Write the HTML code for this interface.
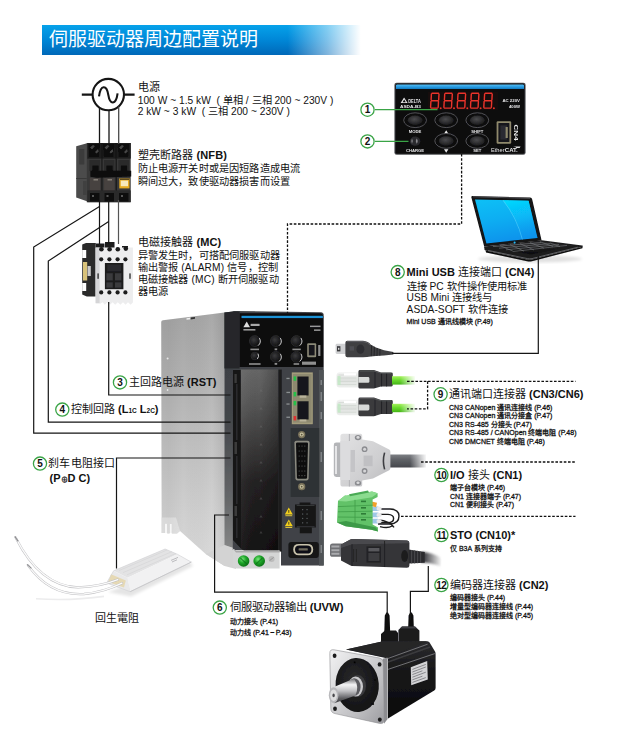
<!DOCTYPE html>
<html lang="zh-CN">
<head>
<meta charset="utf-8">
<title>伺服驱动器周边配置说明</title>
<style>
html,body{margin:0;padding:0;background:#fff;}
body{width:630px;height:735px;overflow:hidden;font-family:"Liberation Sans",sans-serif;color:#111;}
#page{position:absolute;left:0;top:0;width:630px;height:735px;background:#fff;overflow:hidden;}
#titlebar{position:absolute;left:42px;top:25px;width:330px;height:30px;
  background:linear-gradient(to bottom,#06a2ea 0%,#0088d8 48%,#0068b8 100%);}
#titlefade{position:absolute;left:42px;top:24px;width:332px;height:32px;
  background:linear-gradient(to right,rgba(255,255,255,0) 0%,rgba(255,255,255,0) 74%,rgba(255,255,255,.5) 86%,rgba(255,255,255,1) 96%);}
#title{position:absolute;left:49px;top:25px;height:30px;line-height:30px;font-size:19px;color:#fff;white-space:nowrap;letter-spacing:0px;}
svg#art{position:absolute;left:0;top:0;}
.t{position:absolute;white-space:nowrap;color:#111;}
.h{font-size:11px;line-height:13px;}
.h b{font-weight:bold;}
.b{font-size:10.2px;line-height:12.2px;letter-spacing:0.16px;}
.s{font-size:7px;line-height:8.6px;-webkit-text-stroke:0.28px #111;}
.n{position:absolute;width:16px;height:15px;font-size:10px;line-height:15px;font-weight:bold;text-align:center;color:#111;letter-spacing:-0.5px;}
</style>
</head>
<body>
<div id="page">
<div id="titlebar"></div>
<div id="titlefade"></div>
<div id="title">伺服驱动器周边配置说明</div>

<svg id="art" width="630" height="735" viewBox="0 0 630 735">
<defs>
<filter id="b03" x="-5%" y="-5%" width="110%" height="110%"><feGaussianBlur stdDeviation="0.35"/></filter>
<filter id="b05" x="-5%" y="-5%" width="110%" height="110%"><feGaussianBlur stdDeviation="0.55"/></filter>
<filter id="b08" x="-10%" y="-10%" width="120%" height="120%"><feGaussianBlur stdDeviation="0.8"/></filter>
<filter id="b15" x="-20%" y="-20%" width="140%" height="140%"><feGaussianBlur stdDeviation="1.5"/></filter>
<filter id="b30" x="-30%" y="-30%" width="160%" height="160%"><feGaussianBlur stdDeviation="3"/></filter>
<linearGradient id="gSide" x1="0" y1="0" x2="0" y2="1">
  <stop offset="0" stop-color="#a4a4a4"/><stop offset=".25" stop-color="#b0b0b0"/><stop offset=".55" stop-color="#c2c2c2"/><stop offset=".8" stop-color="#d0d0d0"/><stop offset="1" stop-color="#d9d9d9"/>
</linearGradient>
<linearGradient id="gSideX" x1="0" y1="0" x2="1" y2="0">
  <stop offset="0" stop-color="#000" stop-opacity=".03"/><stop offset=".12" stop-color="#000" stop-opacity=".04"/><stop offset=".35" stop-color="#000" stop-opacity="0"/><stop offset=".8" stop-color="#fff" stop-opacity=".06"/><stop offset="1" stop-color="#000" stop-opacity=".06"/>
</linearGradient>
<linearGradient id="gCover" x1="0" y1="0" x2="0" y2="1">
  <stop offset="0" stop-color="#666"/><stop offset=".18" stop-color="#565656"/><stop offset=".42" stop-color="#3a3939"/><stop offset=".62" stop-color="#232122"/><stop offset="1" stop-color="#141213"/>
</linearGradient>
<linearGradient id="gCoverX" x1="0" y1="0" x2="1" y2="0">
  <stop offset="0" stop-color="#fff" stop-opacity=".05"/><stop offset=".5" stop-color="#000" stop-opacity="0"/><stop offset="1" stop-color="#000" stop-opacity=".25"/>
</linearGradient>
<linearGradient id="gBevel" x1="0" y1="0" x2="0" y2="1">
  <stop offset="0" stop-color="#383b3f"/><stop offset=".45" stop-color="#43464a"/><stop offset=".8" stop-color="#66686a"/><stop offset="1" stop-color="#858686"/>
</linearGradient>
<radialGradient id="gBtn" cx=".4" cy=".4" r=".7">
  <stop offset="0" stop-color="#3a3a3c"/><stop offset=".6" stop-color="#1c1c1e"/><stop offset="1" stop-color="#0a0a0b"/>
</radialGradient>
<radialGradient id="gGreen" cx=".4" cy=".35" r=".7">
  <stop offset="0" stop-color="#7be87b"/><stop offset=".45" stop-color="#1fa62a"/><stop offset="1" stop-color="#0a6c14"/>
</radialGradient>
<linearGradient id="gBlue" x1="0" y1="0" x2="0" y2="1"><stop offset="0" stop-color="#5cc0f4"/><stop offset=".5" stop-color="#2a9fe4"/><stop offset="1" stop-color="#157ac0"/></linearGradient>
<radialGradient id="gOval" cx=".45" cy=".4" r=".75"><stop offset="0" stop-color="#4a4a4d"/><stop offset=".55" stop-color="#2a2a2c"/><stop offset="1" stop-color="#111113"/></radialGradient>
<g id="seg8">
  <path d="M1.6 0 H8.2 M1.1 7.4 H7.7 M.6 14.8 H7.2 M1 .8 L.7 6.6 M8.6 .8 L8.3 6.6 M.5 8.2 L.2 14 M8.1 8.2 L7.8 14" stroke="#e8342c" stroke-width="1.45" stroke-linecap="round" fill="none"/>
  <circle cx="10.3" cy="14.9" r="1" fill="#e8342c"/>
</g>
<g id="oval"><ellipse rx="11.4" ry="7.4" fill="#0c0c0e" stroke="#5a5a5e" stroke-width=".9"/><ellipse rx="7.4" ry="4.7" fill="url(#gOval)"/></g>
<linearGradient id="gScreen" x1="0" y1="0" x2=".25" y2="1"><stop offset="0" stop-color="#12c0f6"/><stop offset=".5" stop-color="#08aef2"/><stop offset="1" stop-color="#0894ec"/></linearGradient>
<linearGradient id="gScreenR" x1="0" y1="0" x2=".2" y2="1"><stop offset="0" stop-color="#00dcff" stop-opacity=".95"/><stop offset=".55" stop-color="#08c0fa" stop-opacity=".5"/><stop offset="1" stop-color="#0a9cf0" stop-opacity="0"/></linearGradient>
<linearGradient id="gKb" x1="0" y1="0" x2="0" y2="1"><stop offset="0" stop-color="#2a2a2c"/><stop offset="1" stop-color="#0c0c0d"/></linearGradient>
<linearGradient id="gFadeR" x1="0" y1="0" x2="1" y2="0"><stop offset="0" stop-color="#fff" stop-opacity="0"/><stop offset="1" stop-color="#fff" stop-opacity="1"/></linearGradient>
<linearGradient id="gGreenCable" x1="0" y1="0" x2="0" y2="1"><stop offset="0" stop-color="#a4f05c"/><stop offset=".45" stop-color="#6bdb2e"/><stop offset="1" stop-color="#44b416"/></linearGradient>
<linearGradient id="gGreyCable" x1="0" y1="0" x2="0" y2="1"><stop offset="0" stop-color="#7e8085"/><stop offset=".4" stop-color="#5f6166"/><stop offset="1" stop-color="#45474c"/></linearGradient>
<linearGradient id="gPlug" x1="0" y1="0" x2="0" y2="1"><stop offset="0" stop-color="#f3f4f3"/><stop offset=".5" stop-color="#dfe2df"/><stop offset="1" stop-color="#eceeec"/></linearGradient>
<linearGradient id="gHood" x1="0" y1="0" x2="1" y2="1"><stop offset="0" stop-color="#e2e2e3"/><stop offset=".6" stop-color="#cfcfd1"/><stop offset="1" stop-color="#b9b9bc"/></linearGradient>
<g id="rj45">
  <!-- transparent plug -->
  <path d="M336.6 375.2 Q336.6 372.2 339.6 372.2 H359 V387.6 H339.6 Q336.6 387.6 336.6 384.6Z" fill="url(#gPlug)"/>
  <path d="M338.4 375 h18 M338.4 378 h18 M338.4 381.4 h18 M338.4 384.6 h18" stroke="#c9cec9" stroke-width=".6" fill="none"/>
  <path d="M337.6 376 h3 v9 h-3z" fill="#bfe8c2" opacity=".8"/>
  <path d="M344 373.2 h12 v2.4 h-12z" fill="#fff"/>
  <!-- dark boot -->
  <path d="M358.4 371.4 Q358.6 370 360 370 H374 L381 372.4 H391.4 Q392.8 372.4 392.8 373.8 V385 Q392.8 386.4 391.4 386.4 H381 L374 388.6 H360 Q358.6 388.6 358.4 387.2Z" fill="#3a3b3d"/>
  <path d="M358.4 377 H368 Q369.4 377 369.4 378.4 V381.4 Q369.4 382.8 368 382.8 H358.4Z" fill="#d8dad8"/>
  <path d="M375 372 v16 M381.6 373 v13.4 M386.6 373 v13.4" stroke="#222325" stroke-width="1" fill="none"/>
  <path d="M360 371 H374 L381 373.2 H391" stroke="#5c5d60" stroke-width=".8" fill="none"/>
  <!-- green cable -->
  <path d="M392 376.2 H415 V384.6 H392Z" fill="url(#gGreenCable)"/>
  <path d="M400 375 H416 V386 H400Z" fill="url(#gFadeR)"/>
</g>
<linearGradient id="gFlange" x1="0" y1="0" x2="1" y2="1"><stop offset="0" stop-color="#f2f2f3"/><stop offset=".35" stop-color="#d9d9db"/><stop offset=".7" stop-color="#bcbcbf"/><stop offset="1" stop-color="#9c9ca0"/></linearGradient>
<linearGradient id="gShaft" x1="0" y1="0" x2="0" y2="1"><stop offset="0" stop-color="#6e6e72"/><stop offset=".25" stop-color="#f4f4f5"/><stop offset=".5" stop-color="#c2c2c5"/><stop offset=".8" stop-color="#5f5f63"/><stop offset="1" stop-color="#3a3a3d"/></linearGradient>
<radialGradient id="gFace" cx=".45" cy=".4" r=".7"><stop offset="0" stop-color="#2a2a2c"/><stop offset="1" stop-color="#0e0e10"/></radialGradient>
<linearGradient id="gBody" x1="0" y1="0" x2="0" y2="1"><stop offset="0" stop-color="#2c2c2f"/><stop offset=".4" stop-color="#161618"/><stop offset="1" stop-color="#0b0b0c"/></linearGradient>
<linearGradient id="gRes" x1="0" y1="0" x2="1" y2="0"><stop offset="0" stop-color="#e9e9ea"/><stop offset="1" stop-color="#dadadc"/></linearGradient>
</defs>
<!-- ===== moulded case breaker ===== -->
<g id="breaker" filter="url(#b05)">
  <path d="M76.2 146.2 L87 143.2 V201.2 L76.2 197.6Z" fill="#4c4c4c"/>
  <path d="M79.2 149 h5.2 v15.5 h-5.2z" fill="#3b3b3b"/>
  <path d="M76.2 178 h10.6 v1 h-10.6z" fill="#393939"/>
  <path d="M83 181 h3.5 v14 h-3.5z" fill="#3f3f3f"/>
  <rect x="86.8" y="143" width="43.9" height="59.2" fill="#383838"/>
  <!-- top terminals -->
  <rect x="87.4" y="143" width="43.3" height="15.6" fill="#1b1b1b"/>
  <g fill="#0a0a0a">
    <path d="M88.5 144 h11.5 l-1.5 13 h-9z"/>
    <path d="M103 144 h11.5 l-1.5 13 h-9z"/>
    <path d="M117.5 144 h11.5 l-1 13 h-9z"/>
  </g>
  <g fill="#7a7a7a" opacity=".55">
    <path d="M90 147.5 l3-2.5 2 1 -3 3.4z M95 152 l3-3 .8 2.4 -2.4 2z"/>
    <path d="M104.5 147.5 l3-2.5 2 1 -3 3.4z M109.5 152 l3-3 .8 2.4 -2.4 2z"/>
    <path d="M119 147.5 l3-2.5 2 1 -3 3.4z M124 152 l3-3 .8 2.4 -2.4 2z"/>
  </g>
  <!-- pole dividers -->
  <path d="M101.9 143V202M116.2 143V202" stroke="#191919" stroke-width="1.3" fill="none"/>
  <!-- mid windows -->
  <g fill="#2c2c2c">
    <rect x="89.3" y="160" width="10.8" height="11"/>
    <rect x="104" y="160" width="10.6" height="11"/>
    <rect x="118.2" y="160" width="11" height="11"/>
  </g>
  <g fill="#0d0d0d">
    <rect x="92.2" y="165.6" width="6.4" height="5.6"/>
    <rect x="106.4" y="165.6" width="6.4" height="5.6"/>
    <rect x="120.8" y="165.6" width="6.4" height="5.6"/>
  </g>
  <!-- lower panels -->
  <g fill="#47423f">
    <rect x="89.8" y="178" width="10.4" height="12.2"/>
    <rect x="104.2" y="178" width="10.4" height="12.2"/>
  </g>
  <g fill="#9a948c">
    <rect x="93.5" y="179.3" width="4.5" height="1.1"/>
    <rect x="107.5" y="179.3" width="4.5" height="1.1"/>
  </g>
  <!-- yellow label -->
  <rect x="119.3" y="178.4" width="10.2" height="10" fill="#e6ac22"/>
  <rect x="120.8" y="180.6" width="7.2" height="5.6" fill="#f7e9bb"/>
  <rect x="120" y="178.6" width="9" height="1.2" fill="#3a3020"/>
  <!-- handle -->
  <path d="M90.4 170.8H131.2V176.4L97 177.8 90.4 176.8Z" fill="#0b0b0b"/>
  <!-- bottom terminals -->
  <rect x="87.4" y="190.4" width="43.3" height="11.8" fill="#2a2a2a"/>
  <g fill="#0c0c0c">
    <path d="M90 193 h9.5 v8.5 h-9.5z M104.5 193 h9.5 v8.5 h-9.5z M119 193 h9.5 v8.5 h-9.5z"/>
  </g>
  <g fill="#777" opacity=".7">
    <path d="M92 195 h2 v2 h-2z M106.5 195 h2 v2 h-2z M121 195 h2 v2 h-2z"/>
  </g>
</g>
<!-- ===== magnetic contactor ===== -->
<g id="contactor" filter="url(#b05)">
  <!-- dark back / side -->
  <path d="M82.2 244.5 L86 243 h9.8 V296.5 h-9 L82.2 294.5Z" fill="#2a2a2c"/>
  <path d="M82.2 250 h4 v8 h-4z M82.2 283 h4 v8 h-4z" fill="#fff"/>
  <path d="M83 262 h4.2 v18.5 h-4.2z" fill="#d8c27a"/>
  <path d="M87.5 266 h3.3 v10 h-3.3z" fill="#c9c9c9"/>
  <!-- top black clips -->
  <path d="M96 243.5 h8.5 v5 h-8.5z M105 242 h9.5 v6 h-9.5z M122 246 h6 v3 h-6z" fill="#1c1c1e"/>
  <!-- white front -->
  <path d="M95.6 247.6 H132.9 V302.5 l-2.3 2.2 -2.6-2.4 -2.4 2.4 -2.6-2.4 -2.6 2.4 -2.6-2.4 -2.6 2.4 -2.6-2.4 -2.6 2.4 -2.6-2.4 -2.6 2.4 -2.2-2.4 -2.4 1.4 H95.6Z" fill="#ededee"/>
  <path d="M95.6 247.6 h4 V303 h-4z" fill="#d5d5d7"/>
  <!-- top terminal notches -->
  <g fill="#1b1b1d">
    <circle cx="101.4" cy="249.3" r="2.3"/><circle cx="109.6" cy="249.3" r="2.3"/><circle cx="117.8" cy="249.3" r="2.3"/><circle cx="125.8" cy="248.6" r="2.3"/>
    <circle cx="101.2" cy="259.3" r="2.1"/><circle cx="109.4" cy="259.3" r="2.1"/><circle cx="117.6" cy="259.3" r="2.1"/><circle cx="125.4" cy="259.3" r="2.1"/>
    <circle cx="101.2" cy="292.4" r="2.1"/><circle cx="109.4" cy="292.4" r="2.1"/><circle cx="117.6" cy="292.4" r="2.1"/><circle cx="125.4" cy="292.4" r="2.1"/>
  </g>
  <!-- centre block -->
  <rect x="104.9" y="263" width="18.5" height="26.2" fill="#1d1d1f"/>
  <g fill="#3a3a3c">
    <rect x="106.4" y="273.2" width="6.4" height="7.2"/><rect x="115" y="273.2" width="6.4" height="7.2"/>
    <rect x="106.4" y="282.4" width="6.4" height="5.2"/><rect x="115" y="282.4" width="6.4" height="5.2"/>
  </g>
  <rect x="107.4" y="264.6" width="13.6" height="6.6" fill="#2b2b2d"/>
  <!-- side slots -->
  <rect x="97.4" y="273.4" width="1.4" height="5.4" fill="#333"/>
  <rect x="129.3" y="273.4" width="1.4" height="5.4" fill="#333"/>
</g>
<!-- ===== servo drive ===== -->
<g id="servo">
 <g filter="url(#b05)">
  <!-- aluminium side -->
  <path id="sidepoly" d="M161.2 322 Q161.3 320.6 163 320.3 L224.6 312.6 V566 L205.7 554 180 531 L177 533.6 H171.8 V524 H169.6 V533.6 H167.2 V523.4 H165 V533 H161.6 Z" fill="url(#gSide)"/>
  <path d="M161.6 517.5 H176 L180 531 L177 533.6 H171.8 V524 H169.6 V533.6 H167.2 V523.4 H165 V533 H161.6Z" fill="#e4e4e4" opacity=".85"/>
  <path d="M161.2 322 Q161.3 320.6 163 320.3 L224.6 312.6 V566 L205.7 554 180 531 L177 533 H162 Z" fill="url(#gSideX)"/>
  <path d="M186.5 318.2 l4.5-.6 v1.6 l-4.5.6z" fill="#eee"/>
  <path d="M190.5 317.6 l4.5-.6 v1.8 l-4.5.6z" fill="#333"/>
  <circle cx="167.6" cy="358.5" r="1" fill="#e6e6e6"/><circle cx="167.6" cy="390" r=".9" fill="#e6e6e6"/>
  <!-- bottom light shoe -->
  <path d="M205.7 554 L224.6 566 236 569 236 549 224.4 545 Z" fill="#d3d3d3"/>
  <!-- front bevel -->
  <path d="M224.4 312.6 L233.2 311.4 V548 L224.4 545 Z" fill="url(#gBevel)"/>
  <!-- front face -->
  <path d="M232.8 311.6 Q233 310.8 234.2 310.9 L321.4 312.2 Q323.5 312.4 323.7 314.6 V565.6 H281 V550 H232.8Z" fill="#404346"/>
  <path d="M319 370 H323.7 V565.6 H319Z" fill="#505356"/>
  <!-- top display panel -->
  <path d="M239.4 313.2 H320 Q323 313.4 323.2 316.6 V367 H239.4Z" fill="#0b0b0d"/>
  <path d="M224.4 312.6 L233.2 311.4 H239.6 V368.6 H224.4Z" fill="#25282b"/>
  <rect x="241.5" y="315.8" width="81.4" height="2.3" fill="#1e92d6"/>
  <!-- logo + small text -->
  <path d="M243.4 327.2 l3.3-5.6 3.3 5.6z" fill="#ddd"/>
  <rect x="250.6" y="323.8" width="9" height="2.2" fill="#a8a8a8"/>
  <rect x="243.4" y="329" width="12" height="1.6" fill="#999"/>
  <rect x="310" y="325.6" width="10.5" height="1.5" fill="#999"/><rect x="314" y="329.4" width="6.5" height="1.5" fill="#999"/>
  <!-- buttons -->
  <g fill="url(#gBtn)" stroke="#2e2e30" stroke-width=".8">
   <circle cx="254.8" cy="341" r="5.4"/><circle cx="275.8" cy="341" r="5.4"/><circle cx="296.4" cy="341" r="5.4"/>
   <circle cx="275.8" cy="356.8" r="5.4"/><circle cx="296.4" cy="356.8" r="5.4"/>
   <circle cx="254.8" cy="356" r="3.8"/>
  </g>
  <g fill="none" stroke="#d8d8d8" stroke-width=".9" stroke-linecap="round">
   <path d="M259.6 338.4 a5.6 5.6 0 0 1 -1.2 7"/><path d="M280.6 338.4 a5.6 5.6 0 0 1 -1.2 7"/><path d="M301.2 338.4 a5.6 5.6 0 0 1 -1.2 7"/>
   <path d="M280.6 354.2 a5.6 5.6 0 0 1 -1.2 7"/><path d="M301.2 354.2 a5.6 5.6 0 0 1 -1.2 7"/><path d="M258.2 354 a4 4 0 0 1 -.6 4.6"/>
  </g>
  <g fill="#8f8f8f">
   <rect x="250.4" y="348.6" width="8.6" height="1.6"/><rect x="274.6" y="348.4" width="2.6" height="1.8"/><rect x="292.4" y="348.6" width="8.4" height="1.6"/>
   <rect x="249" y="363.2" width="11.6" height="1.6"/><rect x="274.6" y="363" width="2.6" height="1.8"/><rect x="293.6" y="363.2" width="5.6" height="1.6"/>
   <rect x="302" y="361.6" width="14" height="3.2"/>
   <rect x="318.2" y="345" width="2.2" height="11"/>
  </g>
  <!-- usb port -->
  <rect x="307.2" y="343.2" width="9" height="14" rx="1" fill="#8c8a78"/>
  <rect x="308.8" y="345" width="5.8" height="10.4" fill="#16161a"/>
  <!-- terminal cover strip w/ notches -->
  <path d="M233 370 H241 V548.6 L233 540Z" fill="#121213"/>
  <path d="M234.4 374 h2.4 v9 h-2.4z M234.4 442 h2.6 v12 h-2.6z M234.4 506 h2.6 v10 h-2.6z" fill="#3a3a3a"/>
  <path d="M236 384 h1.6 v56 h-1.6z M236 456 h1.6 v48 h-1.6z M236 518 h1.6 v20 h-1.6z" fill="#2c2c2d"/>
  <!-- glossy cover -->
  <path d="M240.8 369.6 H278.4 V551.6 H245 L240.8 548.6Z" fill="url(#gCover)"/>
  <path d="M240.8 369.6 H278.4 V551.6 H245 L240.8 548.6Z" fill="url(#gCoverX)"/>
  <path d="M278.4 369.6 H281.8 V551.6 H278.4Z" fill="#1b1c1d"/>
  <g fill="#777" opacity=".35">
   <path d="M261 389 l1.6 2.6h-3.2z M261 407 l1.6 2.6h-3.2z M261 425 l1.6 2.6h-3.2z M261 443 l1.6 2.6h-3.2z M261 461 l1.6 2.6h-3.2z M261 479 l1.6 2.6h-3.2z M261 497 l1.6 2.6h-3.2z M261 515 l1.6 2.6h-3.2z M261 531 l1.6 2.6h-3.2z"/>
  </g>
  <!-- small led labels -->
  <g fill="#8b8f92"><rect x="286.4" y="377.8" width="3.2" height="1.3"/><rect x="286.4" y="391.8" width="3.6" height="1.3"/><rect x="286.4" y="403.4" width="3.2" height="1.3"/><rect x="286.4" y="416.6" width="3.6" height="1.3"/>
  <rect x="320.6" y="380" width="1.2" height="5"/><rect x="320.6" y="392" width="1.2" height="9"/><rect x="320.6" y="412" width="1.2" height="7"/><rect x="320.6" y="452" width="1.2" height="10"/><rect x="320.6" y="511" width="1.2" height="9"/><rect x="320.6" y="545" width="1.2" height="8"/></g>
  <!-- RJ45 -->
  <rect x="291.8" y="372.4" width="21" height="51.8" fill="#a39c7c"/>
  <rect x="293" y="374" width="18.6" height="48.6" fill="#8e8970"/>
  <path d="M297.4 376.6 H308.6 V395.6 H297.4Z M297.4 401.2 H308.6 V419.4 H297.4Z" fill="#18191b"/>
  <path d="M299.6 395.6 h6.8 v2.2 h-6.8z M299.6 419.4 h6.8 v2.2 h-6.8z" fill="#b9b39a"/>
  <g fill="#27c04a"><rect x="293.6" y="376.4" width="2.6" height="4.4"/><rect x="293.6" y="392" width="2.6" height="4.4"/><rect x="293.6" y="401" width="2.6" height="4.4"/></g>
  <rect x="293.6" y="416" width="2.6" height="4.4" fill="#d33"/>
  <!-- D-sub panel -->
  <rect x="290.6" y="428" width="28.6" height="69" fill="#2f3235"/>
  <circle cx="301.7" cy="434.6" r="3.6" fill="#7c755c"/><circle cx="301.7" cy="434.6" r="2" fill="#c9c2a0"/><circle cx="301.7" cy="434.6" r=".9" fill="#5a5540"/>
  <circle cx="301.7" cy="486.7" r="3.6" fill="#7c755c"/><circle cx="301.7" cy="486.7" r="2" fill="#c9c2a0"/><circle cx="301.7" cy="486.7" r=".9" fill="#5a5540"/>
  <path d="M294.4 442.6 Q294.6 440.8 296.4 440.8 H307.6 Q309.6 440.8 309.6 442.8 L308.6 478.4 Q308.4 480.4 306.6 480.4 H297.4 Q295.6 480.4 295.4 478.4Z" fill="#8a8a80"/>
  <path d="M296 443.6 Q296.1 442.4 297.3 442.4 H306.8 Q308.1 442.4 308 443.7 L307.1 477.6 Q307 478.8 305.9 478.8 H298.1 Q297 478.8 296.9 477.6Z" fill="#0e0f10"/>
  <g fill="#5a5a58"><circle cx="299.2" cy="446" r=".6"/><circle cx="302" cy="446" r=".6"/><circle cx="304.8" cy="446" r=".6"/><circle cx="299.2" cy="451" r=".6"/><circle cx="302" cy="451" r=".6"/><circle cx="304.8" cy="451" r=".6"/><circle cx="299.2" cy="456" r=".6"/><circle cx="302" cy="456" r=".6"/><circle cx="304.8" cy="456" r=".6"/><circle cx="299.2" cy="461" r=".6"/><circle cx="302" cy="461" r=".6"/><circle cx="304.8" cy="461" r=".6"/><circle cx="299.2" cy="466" r=".6"/><circle cx="302" cy="466" r=".6"/><circle cx="304.8" cy="466" r=".6"/><circle cx="299.2" cy="471" r=".6"/><circle cx="302" cy="471" r=".6"/><circle cx="304.8" cy="471" r=".6"/><circle cx="299.2" cy="475.6" r=".6"/><circle cx="302" cy="475.6" r=".6"/><circle cx="304.8" cy="475.6" r=".6"/></g>
  <!-- warning triangles -->
  <path d="M288.8 507.6 l4 6.8 h-8z M288.8 519.4 l4 6.8 h-8z" fill="#f2cf1c"/>
  <path d="M288.8 510 v2.8 M288.8 521.8 v2.8" stroke="#222" stroke-width=".8"/>
  <rect x="285.4" y="515.2" width="6.8" height="1" fill="#d9c23a"/><rect x="285.4" y="527" width="6.8" height="1" fill="#d9c23a"/>
  <!-- CN10 black connector -->
  <path d="M295 504.6 H299.6 V502.6 H310.4 V504.6 H315.8 V527.6 H311.8 V533.2 H299.8 V527.6 H295Z" fill="#121314"/>
  <g fill="#55585a"><rect x="302" y="509" width="1.3" height="1.3"/><rect x="306.4" y="509" width="1.3" height="1.3"/><rect x="302" y="513.4" width="1.3" height="1.3"/><rect x="306.4" y="513.4" width="1.3" height="1.3"/><rect x="302" y="517.8" width="1.3" height="1.3"/><rect x="306.4" y="517.8" width="1.3" height="1.3"/><rect x="302" y="522.2" width="1.3" height="1.3"/><rect x="306.4" y="522.2" width="1.3" height="1.3"/></g>
  <path d="M296.6 505.4 h18 M296.6 526.8 h18" stroke="#4a4d50" stroke-width=".7" fill="none"/>
  <!-- CN2 port -->
  <path d="M288.4 545 Q288.4 542 291.4 542 H316 Q318.8 542 318.8 545 V555 Q318.8 558 316 558 H291.4 Q288.4 558 288.4 555Z" fill="#141516"/>
  <path d="M293.2 549.4 Q293.2 544 299 544 H307.4 Q313.2 544 313.2 549.4 Q313.2 555.2 307.4 555.2 H299 Q293.2 555.2 293.2 549.4Z" fill="#c8c2ac"/>
  <path d="M295 549.4 Q295 545.6 299.4 545.6 H307 Q311.4 545.6 311.4 549.4 Q311.4 553.6 307 553.6 H299.4 Q295 553.6 295 549.4Z" fill="#101112"/>
  <rect x="298.6" y="548.2" width="9.2" height="2.4" rx=".6" fill="#6e6a5c"/>
  <!-- light base block + green screws -->
  <path d="M233 548.8 L236 550.4 H279.6 V568.6 H236.6 L233 566Z" fill="#d4d5d5"/>
  <path d="M233 548.8 L236 550.4 H279.6 V552.4 H236 Z" fill="#ababab"/>
  <circle cx="243.6" cy="561" r="5.8" fill="url(#gGreen)"/>
  <circle cx="259.2" cy="561" r="5.8" fill="url(#gGreen)"/>
  <path d="M240.4 558 l6.4 6 M262.4 558 l-6.4 6" stroke="#0c6d18" stroke-width="1.1" fill="none" opacity=".7"/>
  <circle cx="271.6" cy="559" r="3" fill="#bcbcbc"/><path d="M269.6 560.6 l4-3.2" stroke="#8a8a8a" stroke-width=".8"/>
 </g>
</g>
<!-- ===== display panel ===== -->
<g id="panel" filter="url(#b03)">
  <rect x="394.4" y="82.8" width="131.2" height="72" rx="2.2" fill="#4e4f52"/>
  <rect x="395.4" y="83.6" width="129.2" height="70.2" rx="1.6" fill="#0c0c0f"/>
  <path d="M396 85.6 Q396 84.4 397.2 84.4 H522.8 Q524 84.4 524 85.6 V88.9 H396Z" fill="url(#gBlue)"/>
  <!-- digits -->
  <rect x="428" y="91.4" width="70" height="19" fill="#150809"/>
  <use href="#seg8" x="430.4" y="93.3"/><use href="#seg8" x="443.7" y="93.3"/><use href="#seg8" x="457" y="93.3"/><use href="#seg8" x="470.3" y="93.3"/><use href="#seg8" x="483.6" y="93.3"/>
  <!-- logo -->
  <path d="M400.6 103 l3.5-5.6 3.5 5.6z" fill="#e6e6e6"/>
  <path d="M402.6 102.2 l1.6-2.6 1.6 2.6z" fill="#0c0c0f"/>
  <g font-family="Liberation Sans, sans-serif" font-weight="bold" fill="#e9e9e9">
   <text x="408.2" y="103" font-size="4.6" textLength="12.6" lengthAdjust="spacingAndGlyphs">DELTA</text>
   <text x="400" y="108.2" font-size="4.4" textLength="21" lengthAdjust="spacingAndGlyphs">ASDA-B3</text>
   <text x="502.4" y="101.8" font-size="4.4" textLength="17.6" lengthAdjust="spacingAndGlyphs">AC 220V</text>
   <text x="509" y="107.8" font-size="4.4" textLength="11" lengthAdjust="spacingAndGlyphs">400W</text>
   <text x="415.1" y="133.4" font-size="4.2" text-anchor="middle">MODE</text>
   <text x="477.3" y="133.4" font-size="4.2" text-anchor="middle">SHIFT</text>
   <text x="415.1" y="152.3" font-size="4.2" text-anchor="middle">CHARGE</text>
   <text x="477.3" y="152.3" font-size="4.2" text-anchor="middle">SET</text>
   <text x="491" y="152" font-size="5.4" font-weight="normal" textLength="13.6" lengthAdjust="spacingAndGlyphs">Ether</text>
   <text x="504.8" y="152" font-size="5.6" textLength="13" lengthAdjust="spacingAndGlyphs">CAT.</text>
   <g transform="translate(514 124.6) rotate(90)"><text x="0" y="0" font-size="6.2" textLength="16" lengthAdjust="spacingAndGlyphs">CN4</text></g>
  </g>
  <path d="M513 146.4 h7.6 l-1 1.6 h-3.4 l-.8-1 z" fill="#ddd"/>
  <path d="M444 133.8 l2.2-3.6 2.2 3.6z M444 149.2 l2.2 3.6 2.2-3.6z" fill="#e9e9e9"/>
  <!-- buttons -->
  <use href="#oval" x="415.1" y="120.2"/><use href="#oval" x="446.2" y="120.2"/><use href="#oval" x="477.3" y="120.2"/>
  <use href="#oval" x="446.2" y="140.9"/><use href="#oval" x="477.3" y="140.9"/>
  <!-- charge led -->
  <ellipse cx="415.1" cy="141.2" rx="5.2" ry="4.6" fill="#2c2c2f"/>
  <path d="M412 138.6 q1.6 2.6 0 5.2 q-1.4-2.6 0-5.2z M416.6 138.6 q2.2 2.6 0 5.2 q-1.6-2.6 0-5.2z" fill="#8d8d92"/>
  <!-- usb -->
  <rect x="496.6" y="121.2" width="14.6" height="22.6" rx="1.2" fill="#8f896c"/>
  <rect x="498.4" y="123" width="11" height="19" rx=".6" fill="#14141a"/>
  <path d="M500.4 125.4 h6.8 v14.2 h-6.8z" fill="#2a2a33"/>
  <path d="M505.6 127 h2.2 v11 h-2.2z" fill="#8f896c"/>
</g>
<!-- ===== laptop ===== -->
<g id="laptop" filter="url(#b03)">
  <!-- soft shadow -->
  <ellipse cx="530" cy="259" rx="52" ry="3.4" fill="#000" opacity=".12" filter="url(#b15)"/>
  <!-- lid -->
  <path d="M471.4 197.4 Q471 195.8 472.8 196 L530.2 197.6 Q531.8 197.7 532.2 199.4 L541.6 240.4 L484.2 246.6 Z" fill="#121214"/>
  <path d="M475 199.4 L528.6 200.8 L537.6 238 L486.4 243.4 Z" fill="url(#gScreen)"/>
  <path d="M503 200.2 L528.6 200.8 L537.6 238 L522.4 239.6 Q517 218 503 200.2Z" fill="url(#gScreenR)"/>
  <path d="M503 200.2 Q517 218 522.4 239.6" stroke="#7fe0ff" stroke-width=".5" fill="none" opacity=".8"/>
  <!-- base -->
  <path d="M484.2 246.4 L541.6 240.2 L582.2 245.4 Q583.4 245.8 582.6 246.8 L532 259.4 Q529.6 259.8 527 259.4 L485.6 250.6 Q484 250 484.2 246.4Z" fill="#1b1b1d"/>
  <path d="M487.4 246.6 L540.6 241.4 L574.4 245.4 L531 254.6 Z" fill="url(#gKb)"/>
  <g stroke="#8c8e92" stroke-width=".6" opacity=".85" fill="none">
    <path d="M493 246.6 L541 242.6 M499 248.2 L550 243.6 M506 249.8 L559 244.6 M514 251.4 L567 245.4"/>
    <path d="M500 245.6 l14 6 M510 244.6 l14 6.6 M520 243.6 l14 6.4 M530 242.6 l14 5.6 M540 241.8 l13 4.6 M550 243 l10 3.6"/>
  </g>
  <circle cx="514.6" cy="242.6" r="1.1" fill="#27b5f2"/>
  <path d="M488 250.4 L527.4 258.6 Q529.6 259 532 258.6 L578 247.2" stroke="#9a9c9f" stroke-width=".7" fill="none" opacity=".8"/>
  <path d="M473 196.8 L530 198.4" stroke="#7a7c80" stroke-width=".7" fill="none" opacity=".8"/>
  <path d="M485.6 250.6 L527 259.4 Q529.6 259.8 532 259.4 L582.6 246.8 L582.4 248.2 L532 261.2 Q529.4 261.6 527 261.2 L486 252.4Z" fill="#0a0a0b"/>
</g>
<!-- ===== mini usb cable ===== -->
<g id="usbcable" filter="url(#b03)">
  <path d="M335.6 345.2 Q335.6 343.8 337 343.8 H346 V354 H337 Q335.6 354 335.6 352.6Z" fill="#cfd0d2"/>
  <rect x="337" y="346.2" width="3.4" height="5.2" fill="#3a3a3d"/>
  <rect x="338" y="347.8" width="1.4" height="2" fill="#d8d8d8"/>
  <path d="M345.4 342.4 Q345.6 340.8 347.2 340.8 H363 Q368.6 341.2 370.6 344.6 L376 347.4 L384 350.2 L393.4 352 V354.6 L384 355.4 L376 356 L370.6 356.6 Q367.6 357.2 363 357.2 H347.2 Q345.6 357.2 345.4 355.6Z" fill="#404043"/>
  <ellipse cx="360.4" cy="349.2" rx="4" ry="4.6" fill="#2e2e31"/>
  <path d="M349.6 346.2 h4.4 v4.4 h-4.4z" fill="#505054"/>
  <path d="M371.6 345.4 l-.4 10.8 M374.4 346.8 l-.3 9.2 M377.2 348 l-.2 7.8 M380 349 l-.2 6.6" stroke="#232325" stroke-width=".9" fill="none"/>
  <path d="M347 341.6 H363 Q368 342 370 344.8" stroke="#66666a" stroke-width=".8" fill="none"/>
</g>
<!-- ===== RJ45 cables ===== -->
<g filter="url(#b03)"><use href="#rj45"/><use href="#rj45" y="27.6"/></g>
<!-- ===== D-sub I/O connector ===== -->
<g id="dsub" filter="url(#b03)">
  <!-- cable -->
  <path d="M384 454.4 H426 V467.6 H384Z" fill="url(#gGreyCable)"/>
  <path d="M410 453 H427 V469 H410Z" fill="url(#gFadeR)"/>
  <!-- metal face -->
  <path d="M333.8 445 Q333.8 442.6 336.2 442.6 H341 V477 H336.2 Q333.8 477 333.8 474.6Z" fill="#b4b5b8"/>
  <path d="M335 446 h2 v28 h-2z" fill="#e6e6e8"/>
  <!-- hood -->
  <path d="M340.4 436.4 Q340.4 433.8 343 433.8 H360.6 Q362.2 433.8 362.2 435.4 V439.4 L373 441.2 L389.2 449.6 Q390.4 450.4 390.4 451.8 V468 Q390.4 469.4 389.2 470.2 L373 478.6 L362.2 480.6 V485 Q362.2 486.6 360.6 486.6 H343 Q340.4 486.6 340.4 484Z" fill="url(#gHood)"/>
  <path d="M340.4 441 H350 V480 H340.4Z" fill="#dcdcde"/>
  <path d="M350.6 450 h4.4 v22 h-4.4z" fill="#c4c4c7"/>
  <path d="M363.6 455.6 h9 v10.6 h-9z" fill="#c0c0c3"/>
  <path d="M349.4 434 v7 M349.4 480 v6.6" stroke="#aaaaad" stroke-width=".8"/>
  <!-- screws -->
  <g><circle cx="364.6" cy="449.2" r="2.9" fill="#8b8c90"/><circle cx="364.6" cy="449.2" r="1.5" fill="#d6d6d8"/>
  <circle cx="364.6" cy="471" r="2.9" fill="#8b8c90"/><circle cx="364.6" cy="471" r="1.5" fill="#d6d6d8"/>
  <ellipse cx="358" cy="437.6" rx="3.2" ry="2.6" fill="#8b8c90"/><ellipse cx="358" cy="437.4" rx="1.6" ry="1.3" fill="#dadadb"/>
  <ellipse cx="358" cy="483" rx="3.2" ry="2.6" fill="#8b8c90"/><ellipse cx="358" cy="482.8" rx="1.6" ry="1.3" fill="#dadadb"/></g>
  <path d="M384.6 452.6 q-2.4 8.4 0 16.8" stroke="#3d3e42" stroke-width="1.6" fill="none"/>
</g>
<!-- ===== green terminal block ===== -->
<g id="tblock" filter="url(#b03)">
  <!-- black wire loops -->
  <g fill="none" stroke="#1d1d1f" stroke-width="1.4">
    <path d="M378 509 H390 Q399 509.4 399 516 Q399 523.6 390 524 H378"/>
    <path d="M378 514.4 H388 Q393.6 514.8 393.6 518.4 Q393.6 522.4 388 522.8 H380"/>
    <path d="M378 520 Q390 521 394 527.4 M380 526.6 Q388 528.6 392 526"/>
  </g>
  <!-- ferrules -->
  <g>
    <rect x="369.6" y="506.4" width="10" height="4.6" rx="2" fill="#9fc8e6"/><rect x="376.6" y="506.8" width="5" height="3.8" rx="1.6" fill="#e8e8ea"/>
    <rect x="369.6" y="512.6" width="10" height="4.6" rx="2" fill="#9fc8e6"/><rect x="376.6" y="513" width="5" height="3.8" rx="1.6" fill="#e8e8ea"/>
    <rect x="369.6" y="518.8" width="10" height="4.6" rx="2" fill="#9fc8e6"/><rect x="376.6" y="519.2" width="5" height="3.8" rx="1.6" fill="#e8e8ea"/>
    <path d="M371.6 501.4 l5.4 1.4 -1 4.4 -5.4-1.4z" fill="#f0a02a"/>
  </g>
  <!-- body -->
  <path d="M338 501 L345 495.4 L349 496.8 L372 491.4 L377.6 493.2 V497 L372.6 499.6 V524.6 L378 527.4 V531.4 L371.4 529.8 L345.6 526.2 L337 522.4Z" fill="#62c268"/>
  <path d="M338 501 L345 495.4 L372 491.4 L377.6 493.2 L372 497.2 L346 501.6Z" fill="#8bdc8f"/>
  <path d="M337 522.4 L345.6 526.2 L371.4 529.8 L378 531.4 L376 527.6 L346 521Z" fill="#3e9a48"/>
  <g stroke="#3f9d48" stroke-width=".8" fill="none">
    <path d="M338 506.6 L372.4 505.2 M338 511.8 L372.4 511.2 M338 517 L372.4 517.4"/>
    <path d="M355 499.8 V526.6"/>
  </g>
  <g fill="#2f7d38"><rect x="361" y="500.6" width="5" height="1.6"/><rect x="361" y="507" width="5" height="1.6"/><rect x="361" y="513" width="5" height="1.6"/><rect x="361" y="519" width="5" height="1.6"/></g>
  <path d="M349 494.2 L368 490.6 L369 492.4 L350 496.2Z" fill="#4aaa54"/>
</g>
<!-- ===== encoder connector ===== -->
<g id="enc" filter="url(#b03)">
  <!-- cable fading -->
  <path d="M422 551.8 Q432 552.6 443 558.4 L441.6 566.6 Q430 562.4 421 562.6Z" fill="#4a4a4e" filter="url(#b08)"/>
  <path d="M425 546 H442 V572 H425Z" fill="url(#gFadeR)"/><rect x="441.8" y="546" width="8" height="26" fill="#fff"/>
  <!-- metal tip -->
  <path d="M330 546 Q330 543.4 332.6 543.4 H342 V556.8 H332.6 Q330 556.8 330 554.2Z" fill="#707174"/>
  <path d="M331.4 545.6 h8 v2 h-8z M331.4 549.2 h8 v2 h-8z M331.4 552.8 h8 v2 h-8z" fill="#a9aaad"/>
  <!-- body -->
  <path d="M341 544.6 L350.4 539.6 Q351.2 539 352.4 539 L407 540.6 Q409.4 540.8 409.4 543.2 V565.6 Q409.4 567.8 407 567.8 L352.4 566 Q351 566 350 565.2 L341 560.4Z" fill="#343437"/>
  <path d="M350.4 539.6 Q351.2 539 352.4 539 L407 540.6 Q409.4 540.8 409.4 543.2 L352 544.2 L341 548 V544.6Z" fill="#4a4a4e"/>
  <path d="M352 544.2 V566" stroke="#202022" stroke-width=".9"/>
  <path d="M366.6 546.4 H381 V562.6 H366.6Z" fill="#232325"/>
  <path d="M368.4 548 H379.4 V551.4 H368.4Z" fill="#58585c"/>
  <path d="M368.4 553 H379.4 V561 H368.4Z" fill="#3d3d40"/>
  <path d="M384.6 541 V567" stroke="#232325" stroke-width="1"/>
  <path d="M353.6 549 v13 M356.4 549 v13" stroke="#252527" stroke-width="1"/>
  <!-- strain relief -->
  <path d="M408.6 549.6 L424.8 552 V562.8 L408.6 563.6Z" fill="#2c2c2f"/>
  <path d="M411.6 550 v13.4 M414.6 550.4 v13 M417.6 550.8 v12.4 M420.6 551.4 v11.6" stroke="#4b4b4f" stroke-width=".9"/>
  <ellipse cx="404.6" cy="556" rx="3.4" ry="6" fill="#1c1c1e"/>
</g>
<!-- ===== servo motor ===== -->
<g id="motor" filter="url(#b05)">
  <!-- cables -->
  <path d="M386.4 612.6 h1.6 l1.6 3 .8 24.4 h-6.4 l.8-24.4z M410.2 612.6 h1.6 l1.6 3 .8 22.4 h-6.4 l.8-22.4z" fill="#0e0e10"/>
  <!-- connectors on top -->
  <path d="M381 634 L385 630.6 H396 L398 633 V645 H381Z" fill="#161618"/>
  <path d="M398.4 630 L402 626.6 H415 L419.4 630.4 V642 H398.4Z" fill="#1a1a1c"/>
  <path d="M402 626.6 H415 L417 628.6 H400Z" fill="#3d3d40"/>
  <!-- body -->
  <path d="M346 649.4 L382 641.4 L427.4 641.2 Q429 641.4 429.6 642.6 L435 651.6 Q435.6 652.6 435.6 654 V688 Q435.6 689.6 434.2 690.4 L388 718.6 V658.6Z" fill="url(#gBody)"/>
  <path d="M346 649.4 L382 641.4 L427.4 641.2 L387.6 657.8Z" fill="#252528"/>
  <path d="M387.6 658.6 L427.6 644.2 M388 669.4 L434.8 653.6" stroke="#8a8a8e" stroke-width=".9" fill="none" opacity=".85"/>
  <path d="M388 662 L430 647" stroke="#3b3b3e" stroke-width="1.6" fill="none"/>
  <!-- name plate -->
  <path d="M410.8 667.2 L427.2 661 L427.8 679.6 L411.2 685.2Z" fill="#d4d4d6"/>
  <g stroke="#55555a" stroke-width=".6" fill="none"><path d="M412.4 669.4 l13.4-5 M412.4 672 l13.4-5 M412.4 674.6 l10-3.8 M412.4 677.2 l13.4-5 M412.4 679.8 l10-3.6 M412.4 682.4 l13.4-4.8"/></g>
  <!-- flange thickness -->
  <path d="M382.6 658.8 L387.6 657.6 V719 L384 723.8Z" fill="#8c8c90"/>
  <!-- flange face -->
  <path d="M329.8 653.6 Q329.6 649 334 649.8 L379.6 658 Q383 658.8 383.2 662.4 L384.2 719.6 Q384.2 724.4 379.6 723.4 L335 713.6 Q330.8 712.6 330.8 708.4Z" fill="url(#gFlange)"/>
  <path d="M329.8 653.6 Q329.6 649 334 649.8 L379.6 658 Q383 658.8 383.2 662.4 L384.2 719.6 Q384.2 724.4 379.6 723.4 L335 713.6 Q330.8 712.6 330.8 708.4Z" fill="none" stroke="#8e8e92" stroke-width=".6"/>
  <!-- holes -->
  <g fill="#1a1a1c"><ellipse cx="334.6" cy="655.8" rx="1.9" ry="2.2"/><ellipse cx="379.6" cy="664.4" rx="1.9" ry="2.2"/><ellipse cx="335" cy="708.8" rx="1.9" ry="2.2"/><ellipse cx="379.8" cy="719.6" rx="1.9" ry="2.2"/></g>
  <!-- black face -->
  <ellipse cx="357.2" cy="685" rx="21.6" ry="27" fill="url(#gFace)" transform="rotate(-4 357.2 685)"/>
  <g fill="#050506"><circle cx="354.6" cy="662.4" r="1.1"/><circle cx="375" cy="680" r="1.1"/><circle cx="373" cy="704" r="1.1"/><circle cx="342" cy="700" r="1.1"/></g>
  <!-- collar + shaft -->
  <ellipse cx="357.6" cy="686" rx="8.4" ry="11" fill="#3a3a3d"/>
  <ellipse cx="355.6" cy="686.6" rx="7.4" ry="10" fill="#c9c9cc"/>
  <ellipse cx="354.4" cy="687" rx="6.2" ry="8.8" fill="#5a5a5e"/>
  <path d="M333.4 687.2 L354 678.6 Q359.6 686.6 355.4 695.6 L334.2 703.2Z" fill="url(#gShaft)"/>
  <ellipse cx="333.6" cy="695.2" rx="4.8" ry="8" fill="#b9b9bc"/>
  <ellipse cx="333.6" cy="695.2" rx="3.4" ry="5.8" fill="#dededf"/>
  <ellipse cx="333.6" cy="695.4" rx="1.2" ry="1.8" fill="#4a4a4d"/>
</g>
<!-- ===== regenerative resistor ===== -->
<g id="resistor" filter="url(#b03)">
  <!-- soft shadow -->
  <path d="M108 592 L131 596.5 L193 566 L190 562Z" fill="#000" opacity=".10" filter="url(#b15)"/>
  <!-- body -->
  <path d="M113.6 570.8 L165.1 549 L177.3 554.2 L127.5 577.8Z" fill="#e3e3e4"/>
  <path d="M127.5 577.8 L177.3 554.2 L191.3 562.1 L130.2 591.7Z" fill="#f1f1f2"/>
  <path d="M113.6 570.8 L127.5 577.8 L130.2 591.7 L106.6 583Z" fill="#e9e9ea"/>
  <path d="M111 574.3 L125.8 580.4 L124 587.6 L108.3 582.1Z" fill="#e6d9b4"/>
  <path d="M113.6 570.8 L165.1 549 L177.3 554.2 L191.3 562.1 L130.2 591.7 L106.6 583Z" fill="none" stroke="#cfcfd1" stroke-width=".6"/>
  <g stroke="#d0d0d2" stroke-width=".5" fill="none"><path d="M119 570.6 l48-20.6 M123 572.6 l49-21 M127 574.8 l49-21.4"/></g>
  <path d="M171 560.4 l7-3 M172 562 l5-2.2" stroke="#a4a4a7" stroke-width=".7" fill="none"/>
  <path d="M130.2 591.7 L191.3 562.1" stroke="#c4c4c6" stroke-width=".8" fill="none"/>
  <!-- lead wires -->
  <g fill="none" stroke="#bdbdc0" stroke-width="2.3" stroke-linecap="round">
    <path d="M122 583.2 Q104 592 84 594 Q50 596 28 565.4"/>
    <path d="M117.8 579.6 Q100 586.6 78 587.4 Q40 586 15.6 537.4"/>
  </g>
  <g fill="none" stroke="#fbfbfb" stroke-width="1.3" stroke-linecap="round">
    <path d="M122 583.2 Q104 592 84 594 Q50 596 28 565.4"/>
    <path d="M117.8 579.6 Q100 586.6 78 587.4 Q40 586 15.6 537.4"/>
  </g>
  <path d="M14.8 536.4 l3.4 5 M27 564.4 l4.4 4" stroke="#8f8f92" stroke-width="1.2" fill="none"/>
  <path d="M36 598.8 Q72 601 104 596.4" stroke="#ececed" stroke-width="1.6" fill="none"/>
</g>

<!--LINES-->
<g id="wires" fill="none" stroke="#151515" stroke-width="1.2">
  <!-- AC source -->
  <circle cx="108.3" cy="94.6" r="15.7" stroke-width="2.1"/>
  <path d="M99 96.4 C100.6 84.4,106.6 84.4,108.3 94.8 S116 105.2,117.6 93.4" stroke-width="2.1"/>
  <path d="M81.8 94.6H92.6M124 94.6H134.6" stroke-width="2.1"/>
  <path d="M99.5 107.4V144M109 110.2V144" stroke-width="1.3"/>
  <path d="M118.7 106.4V144" stroke="#4a4a4a" stroke-width="1.3"/>
  <!-- breaker to contactor -->
  <path d="M99.5 200V244M108.7 200V244"/>
  <path d="M118.5 200V244" stroke="#555"/>
  <path d="M99.5 206.5L33.7 247V433.2H230.5"/>
  <path d="M108.7 221.6L48.3 261V422.2H230.5"/>
  <path d="M108.7 302V395H230.5"/>
  <!-- 5 -->
  <path d="M116.5 568.5V458H230.5"/>
  <!-- 6 -->
  <path d="M229 515H214.6V592.2H387.2V620"/>
  <!-- 12 -->
  <path d="M428.3 566V591.4H410.4V620"/>
  <!-- 8 -->
  <path d="M538.3 256V353.3H392"/>
</g>
<g id="dashes" fill="none" stroke="#111" stroke-width="1.3" stroke-dasharray="2.6 1.6">
  <path d="M461.6 154V224H287.5V313"/>
  <path d="M407 381.3H575.5"/>
  <path d="M427.6 381.3V408.8H407"/>
  <path d="M421 462H575.5"/>
  <path d="M401 516.4H575.5"/>
</g>
<g id="labels" fill="none" stroke="#3aa446" stroke-width="1.2">
  <path d="M375 109.7H437.5M375 141.4H408.5"/>
</g>
<g id="rings" fill="#fff" stroke="#3aa446" stroke-width="1.3">
  <circle cx="367.5" cy="109.7" r="6.6"/>
  <circle cx="367.5" cy="141.4" r="6.6"/>
  <circle cx="120.0" cy="382.4" r="6.6"/>
  <circle cx="62.3" cy="409.6" r="6.6"/>
  <circle cx="40.0" cy="463.6" r="6.6"/>
  <circle cx="219.8" cy="607.6" r="6.6"/>
  <circle cx="397.7" cy="272.1" r="6.6"/>
  <circle cx="440.6" cy="394.3" r="6.6"/>
  <circle cx="441.4" cy="475.0" r="6.6"/>
  <circle cx="441.4" cy="535.0" r="6.6"/>
  <circle cx="441.4" cy="585.0" r="6.6"/>
</g>
</svg>

<!-- numbered markers -->
<div class="n" style="left:359.3px;top:102.4px">1</div>
<div class="n" style="left:359.3px;top:134.1px">2</div>
<div class="n" style="left:111.8px;top:375.1px">3</div>
<div class="n" style="left:54.1px;top:402.3px">4</div>
<div class="n" style="left:31.8px;top:456.3px">5</div>
<div class="n" style="left:211.6px;top:600.3px">6</div>
<div class="n" style="left:389.5px;top:264.8px">8</div>
<div class="n" style="left:432.4px;top:387.0px">9</div>
<div class="n" style="left:433.2px;top:467.7px">10</div>
<div class="n" style="left:433.2px;top:527.7px">11</div>
<div class="n" style="left:433.2px;top:577.7px">12</div>

<!-- text -->
<div class="t h" style="left:137.7px;top:80.5px">电源</div>
<div class="t b" style="left:137.7px;top:94.5px;line-height:11.2px;letter-spacing:0.03px">100 W ~ 1.5 kW &nbsp;( 单相 / 三相 200 ~ 230V )<br>2 kW ~ 3 kW &nbsp;( 三相 200 ~ 230V )</div>

<div class="t h" style="left:137.7px;top:149.3px;letter-spacing:.12px">塑壳断路器 <b>(NFB)</b></div>
<div class="t b" style="left:137.7px;top:163px;line-height:12.7px">防止电源开关时或是因短路造成电流<br>瞬间过大，致使驱动器损害而设置</div>

<div class="t h" style="left:137.7px;top:235.7px;letter-spacing:.12px">电磁接触器 <b>(MC)</b></div>
<div class="t b" style="left:137.7px;top:249.6px;line-height:12px">异警发生时，可搭配伺服驱动器<br>输出警报 (ALARM) 信号，控制<br>电磁接触器 (MC) 断开伺服驱动<br>器电源</div>

<div class="t h" style="left:129px;top:376px">主回路电源 <b>(RST)</b></div>
<div class="t h" style="left:71px;top:403.3px">控制回路 <b>(L<span style="font-size:6.5px">1C</span> L<span style="font-size:6.5px">2C</span>)</b></div>
<div class="t h" style="left:48px;top:457px;letter-spacing:.27px">刹车电阻接口</div>
<div class="t h" style="left:49.5px;top:471.5px"><b>(P<span style="font-size:7px">⊕</span>D C)</b></div>
<div class="t h" style="left:95px;top:612px">回生電阻</div>

<div class="t h" style="left:229.5px;top:601px;font-size:11.3px">伺服驱动器输出 <b>(UVW)</b></div>
<div class="t s" style="left:230px;top:617px;line-height:10.7px">动力接头 (P.41)<br>动力线 (P.41&#8201;~&#8201;P.43)</div>

<div class="t h" style="left:406.6px;top:265.6px"><b>Mini USB</b> 连接端口 <b>(CN4)</b></div>
<div class="t b" style="left:406.6px;top:280.5px;line-height:11.9px;letter-spacing:0.02px">连接 PC 软件操作使用标准<br>USB Mini 连接线与<br>ASDA-SOFT 软件连接</div>
<div class="t s" style="left:406.6px;top:318px">Mini USB 通讯线模块 (P.49)</div>

<div class="t h" style="left:449px;top:388px">通讯端口连接器 <b>(CN3/CN6)</b></div>
<div class="t s" style="left:449px;top:403.6px">CN3 CANopen 通讯连接线 (P.46)<br>CN3 CANopen 通讯分接盒 (P.47)<br>CN3 RS-485 分接头 (P.47)<br>CN3 RS-485 / CANOpen 终端电阻 (P.48)<br>CN6 DMCNET 终端电阻 (P.48)</div>

<div class="t h" style="left:450px;top:468.5px"><b>I/O</b> 接头 <b>(CN1)</b></div>
<div class="t s" style="left:450px;top:484.2px">端子台模块 (P.46)<br>CN1 连接器端子 (P.47)<br>CN1 便利接头 (P.47)</div>

<div class="t h" style="left:450px;top:528.5px"><b>STO (CN10)*</b></div>
<div class="t s" style="left:450px;top:544.5px">仅 B3A 系列支持</div>

<div class="t h" style="left:450px;top:578.5px">编码器连接器 <b>(CN2)</b></div>
<div class="t s" style="left:450px;top:594.4px">编码器接头 (P.44)<br>增量型编码器连接线 (P.44)<br>绝对型编码器连接线 (P.45)</div>

</div>
</body>
</html>
